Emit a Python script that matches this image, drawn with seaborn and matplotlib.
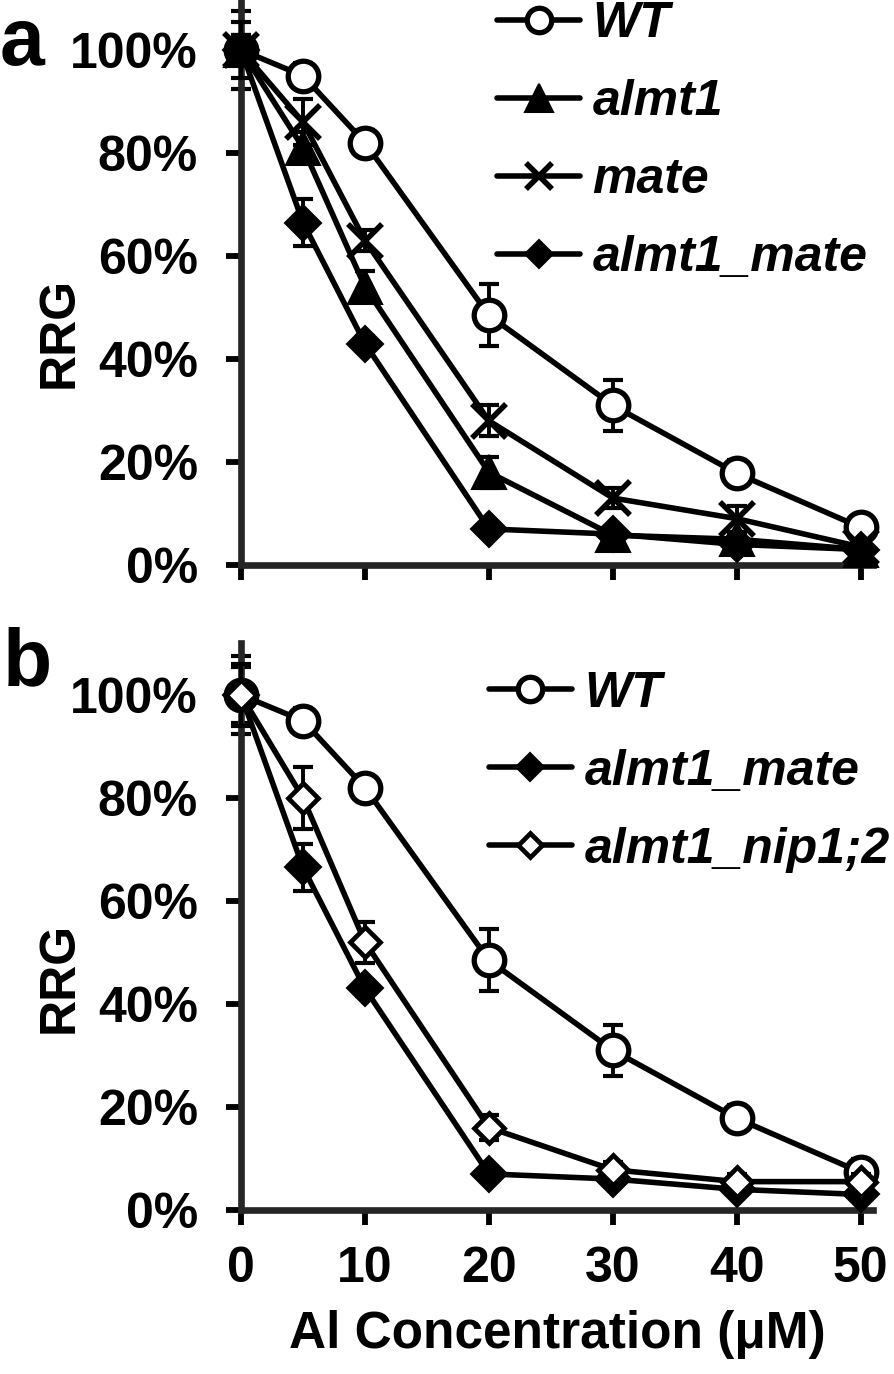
import numpy as np
import pandas as pd
import matplotlib
matplotlib.use("Agg")
import matplotlib.pyplot as plt
from matplotlib.ticker import PercentFormatter
import seaborn as sns

# Al concentrations (uM)
conc = [0, 5, 10, 20, 30, 40, 50]

# relative root growth (%) and error bars
wt = [100, 95, 82, 48.5, 31, 17.8, 7.3]
wt_err = [7.5, 2.5, 2.5, 6, 5, 2.5, 2.5]
almt1 = [100, 81, 54, 18, 5.8, 5, 3]
almt1_err = [3, 3, 3, 3, 1.5, 1, 1]
mate = [100, 86, 63, 28, 13, 9, 3.5]
mate_err = [3, 4.5, 2, 3, 2, 2.5, 1]
almt1_mate = [100, 66.5, 43, 7, 6, 4, 3]
almt1_mate_err = [5.5, 4.5, 1.5, 1, 1, 1, 1]
almt1_nip = [100, 80, 52, 16, 7.8, 5.5, 5.5]
almt1_nip_err = [6, 6, 4, 2.5, 1.5, 1.5, 1.5]

LW = 4.0
styles = {
    "WT": dict(marker="o", markersize=22, mfc="white", mec="black", mew=3.8),
    "almt1": dict(marker="^", markersize=25, mfc="black", mec="black", mew=1.5),
    "mate": dict(marker="x", markersize=24, mfc="black", mec="black", mew=4.0),
    "almt1_mate": dict(marker="D", markersize=18, mfc="black", mec="black", mew=1.5),
    "almt1_nip1;2": dict(marker="D", markersize=15, mfc="white", mec="black", mew=3.4),
}

sns.set_style("ticks")
plt.rcParams["font.family"] = ["Liberation Sans", "DejaVu Sans"]
plt.rcParams["font.weight"] = "bold"
plt.rcParams["text.color"] = "black"
plt.rcParams["axes.labelcolor"] = "black"

fig = plt.figure(figsize=(8.94, 13.74), dpi=100)
ax_a = fig.add_axes([0.2696, 0.5888, 0.707, 0.4123])
ax_b = fig.add_axes([0.2696, 0.1194, 0.707, 0.4123])

panels = [
    (ax_a, [("WT", wt, wt_err), ("almt1", almt1, almt1_err),
            ("mate", mate, mate_err), ("almt1_mate", almt1_mate, almt1_mate_err)],
     (0.405, 0.995), 0.64),
    (ax_b, [("WT", wt, wt_err), ("almt1_mate", almt1_mate, almt1_mate_err),
            ("almt1_nip1;2", almt1_nip, almt1_nip_err)],
     (0.392, 0.952), 0.64),
]

for ax, series, anchor, spacing in panels:
    for i, (name, vals, err) in enumerate(series):
        ax.errorbar(conc, vals, yerr=err, fmt="none", ecolor="black",
                    elinewidth=2.8, capsize=7, capthick=3,
                    clip_on=False, zorder=1.5 + i)
        sns.lineplot(x=conc, y=vals, ax=ax, color="black", lw=LW,
                     label=name, errorbar=None, clip_on=False,
                     zorder=2 + i, **styles[name])
    ax.set_xlim(0, 51)
    ax.set_ylim(0, 110)
    ax.set_xticks([0, 10, 20, 30, 40, 50])
    ax.set_yticks([0, 20, 40, 60, 80, 100])
    ax.yaxis.set_major_formatter(PercentFormatter(100, decimals=0))
    ax.set_ylabel("RRG", fontsize=36, fontweight="bold")
    ax.yaxis.set_label_coords(-0.25, 0.41)
    ax.set_xlabel("")
    for s in ["top", "right"]:
        ax.spines[s].set_visible(False)
    for s in ["left", "bottom"]:
        ax.spines[s].set_linewidth(4.8)
    ax.tick_params(axis="both", direction="out", length=11, width=4.2,
                   labelsize=36, colors="black", labelcolor="black")
    ax.tick_params(axis="y", pad=20)
    ax.tick_params(axis="x", pad=15)
    for lab in ax.get_yticklabels() + ax.get_xticklabels():
        lab.set_fontweight("bold")
    leg = ax.legend(loc="upper left", bbox_to_anchor=anchor,
                    frameon=False, borderpad=0, borderaxespad=0,
                    handlelength=1.66, handletextpad=0.25, labelspacing=spacing,
                    markerscale=0.8,
                    prop={"size": 36, "weight": "bold", "style": "italic"})
    for t in leg.get_texts():
        t.set_color("black")

ax_a.tick_params(axis="x", labelbottom=False)
ax_b.set_xlabel("Al Concentration (μM)", fontsize=37, fontweight="bold", labelpad=13)

fig.text(0.0, 1 - 65 / 1374, "a", fontsize=58, fontweight="bold", va="baseline")
fig.text(0.003, 1 - 685 / 1374, "b", fontsize=58, fontweight="bold", va="baseline")

fig.savefig("out.png", dpi=100)
